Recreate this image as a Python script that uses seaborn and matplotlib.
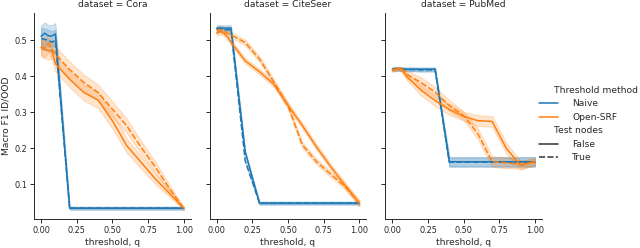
import numpy as np
import pandas as pd
import seaborn as sns
import matplotlib
matplotlib.use("Agg")
import matplotlib.pyplot as plt
from matplotlib.offsetbox import HPacker, DrawingArea, TextArea

thresholds = [0, 0.025, 0.05, 0.075, 0.1, 0.2, 0.3, 0.4, 0.5, 0.6, 0.7, 0.8, 0.9, 1.0]
datasets = ['Cora', 'CiteSeer', 'PubMed']
methods = ['Naive', 'Open-SRF']
test_nodes = ['False', 'True']
xticks = [0, 0.25, 0.5, 0.75, 1.0]

# mean macro F1
cora_naive_false = [0.511, 0.52, 0.513, 0.512, 0.518, 0.034, 0.034, 0.034, 0.034, 0.034, 0.034, 0.034, 0.034, 0.034]
cora_naive_true = [0.505, 0.503, 0.50, 0.495, 0.50, 0.034, 0.034, 0.034, 0.034, 0.034, 0.034, 0.034, 0.034, 0.034]
cora_srf_false = [0.48, 0.475, 0.472, 0.472, 0.435, 0.392, 0.355, 0.334, 0.277, 0.208, 0.162, 0.116, 0.075, 0.034]
cora_srf_true = [0.483, 0.478, 0.492, 0.475, 0.462, 0.419, 0.383, 0.355, 0.309, 0.263, 0.204, 0.149, 0.089, 0.034]

citeseer_naive_false = [0.534, 0.534, 0.534, 0.534, 0.534, 0.19, 0.048, 0.048, 0.048, 0.048, 0.048, 0.048, 0.048, 0.048]
citeseer_naive_true = [0.53, 0.533, 0.528, 0.53, 0.528, 0.165, 0.048, 0.048, 0.048, 0.048, 0.048, 0.048, 0.048, 0.048]
citeseer_srf_false = [0.52, 0.525, 0.52, 0.51, 0.495, 0.443, 0.413, 0.378, 0.32, 0.264, 0.204, 0.149, 0.098, 0.048]
citeseer_srf_true = [0.528, 0.53, 0.525, 0.52, 0.515, 0.494, 0.448, 0.385, 0.318, 0.21, 0.163, 0.128, 0.094, 0.048]

pubmed_naive_false = [0.42, 0.422, 0.421, 0.42, 0.42, 0.42, 0.42, 0.163, 0.163, 0.163, 0.163, 0.163, 0.163, 0.163]
pubmed_naive_true = [0.42, 0.42, 0.42, 0.419, 0.419, 0.418, 0.418, 0.162, 0.162, 0.162, 0.162, 0.162, 0.162, 0.162]
pubmed_srf_false = [0.418, 0.42, 0.422, 0.415, 0.40, 0.362, 0.333, 0.308, 0.289, 0.277, 0.275, 0.20, 0.153, 0.163]
pubmed_srf_true = [0.418, 0.42, 0.422, 0.418, 0.406, 0.383, 0.356, 0.319, 0.291, 0.241, 0.163, 0.16, 0.155, 0.163]

# half width of the shaded band
cora_naive_band = [0.03, 0.03, 0.03, 0.03, 0.03, 0.004, 0.004, 0.004, 0.004, 0.004, 0.004, 0.004, 0.004, 0.004]
cora_srf_band = [0.025, 0.025, 0.025, 0.025, 0.022, 0.022, 0.022, 0.022, 0.022, 0.02, 0.018, 0.015, 0.01, 0.004]
citeseer_naive_band = [0.008, 0.008, 0.008, 0.008, 0.008, 0.004, 0.004, 0.004, 0.004, 0.004, 0.004, 0.004, 0.004, 0.004]
citeseer_srf_band = [0.008] * 14
pubmed_naive_band = [0.005, 0.005, 0.005, 0.005, 0.005, 0.005, 0.005, 0.013, 0.013, 0.013, 0.013, 0.013, 0.013, 0.013]
pubmed_srf_band = [0.005, 0.005, 0.005, 0.008, 0.01, 0.015, 0.015, 0.015, 0.012, 0.015, 0.015, 0.015, 0.012, 0.01]

series = {
    ('Cora', 'Naive', 'False'): (cora_naive_false, cora_naive_band),
    ('Cora', 'Naive', 'True'): (cora_naive_true, cora_naive_band),
    ('Cora', 'Open-SRF', 'False'): (cora_srf_false, cora_srf_band),
    ('Cora', 'Open-SRF', 'True'): (cora_srf_true, cora_srf_band),
    ('CiteSeer', 'Naive', 'False'): (citeseer_naive_false, citeseer_naive_band),
    ('CiteSeer', 'Naive', 'True'): (citeseer_naive_true, citeseer_naive_band),
    ('CiteSeer', 'Open-SRF', 'False'): (citeseer_srf_false, citeseer_srf_band),
    ('CiteSeer', 'Open-SRF', 'True'): (citeseer_srf_true, citeseer_srf_band),
    ('PubMed', 'Naive', 'False'): (pubmed_naive_false, pubmed_naive_band),
    ('PubMed', 'Naive', 'True'): (pubmed_naive_true, pubmed_naive_band),
    ('PubMed', 'Open-SRF', 'False'): (pubmed_srf_false, pubmed_srf_band),
    ('PubMed', 'Open-SRF', 'True'): (pubmed_srf_true, pubmed_srf_band),
}

rows = []
for (ds, m, t), (vals, band) in series.items():
    for q, v, b in zip(thresholds, vals, band):
        rows.append({'dataset': ds, 'Threshold method': m, 'Test nodes': t,
                     'threshold, q': q, 'Macro F1 ID/OOD': v - b})
        rows.append({'dataset': ds, 'Threshold method': m, 'Test nodes': t,
                     'threshold, q': q, 'Macro F1 ID/OOD': v + b})
df = pd.DataFrame(rows)

sns.set_theme(style="ticks", context="paper", palette="tab10")
plt.rcParams.update({
    'xtick.labelsize': 5.9, 'ytick.labelsize': 5.9,
    'axes.labelsize': 6.6, 'axes.titlesize': 7.0,
    'legend.fontsize': 6.6, 'legend.title_fontsize': 6.6,
    'legend.handletextpad': 1.6,
    'xtick.major.size': 2.6, 'ytick.major.size': 2.6,
    'xtick.major.width': 0.7, 'ytick.major.width': 0.7,
    'xtick.major.pad': 2.2, 'ytick.major.pad': 2.2,
    'axes.linewidth': 0.7, 'lines.linewidth': 1.1,
    'axes.labelpad': 2.5, 'axes.titlepad': 4.0,
})

g = sns.relplot(data=df, x='threshold, q', y='Macro F1 ID/OOD', col='dataset',
                hue='Threshold method', style='Test nodes', kind='line',
                col_order=datasets, hue_order=methods, style_order=test_nodes,
                errorbar=lambda v: (v.min(), v.max()),
                height=2.4, aspect=0.75)
g.set(xticks=xticks)

# pull the subtitle rows ("Threshold method", "Test nodes") to the left
subtitles = {'Threshold method', 'Test nodes'}
for hp in g._legend.findobj(HPacker):
    kids = hp.get_children()
    if len(kids) == 2 and isinstance(kids[0], DrawingArea) and isinstance(kids[1], TextArea):
        if kids[1].get_text() in subtitles:
            kids[0].set_width(0)
            for a in kids[0].get_children():
                a.set_visible(False)

g.figure.set_size_inches(6.4, 2.48)
g.figure.subplots_adjust(left=34 / 640, right=542 / 640, bottom=1 - 219 / 248,
                         top=1 - 13 / 248, wspace=0.12)
g._legend.set_bbox_to_anchor((1.01, 0.5))

plt.savefig('out.png', dpi=100)
